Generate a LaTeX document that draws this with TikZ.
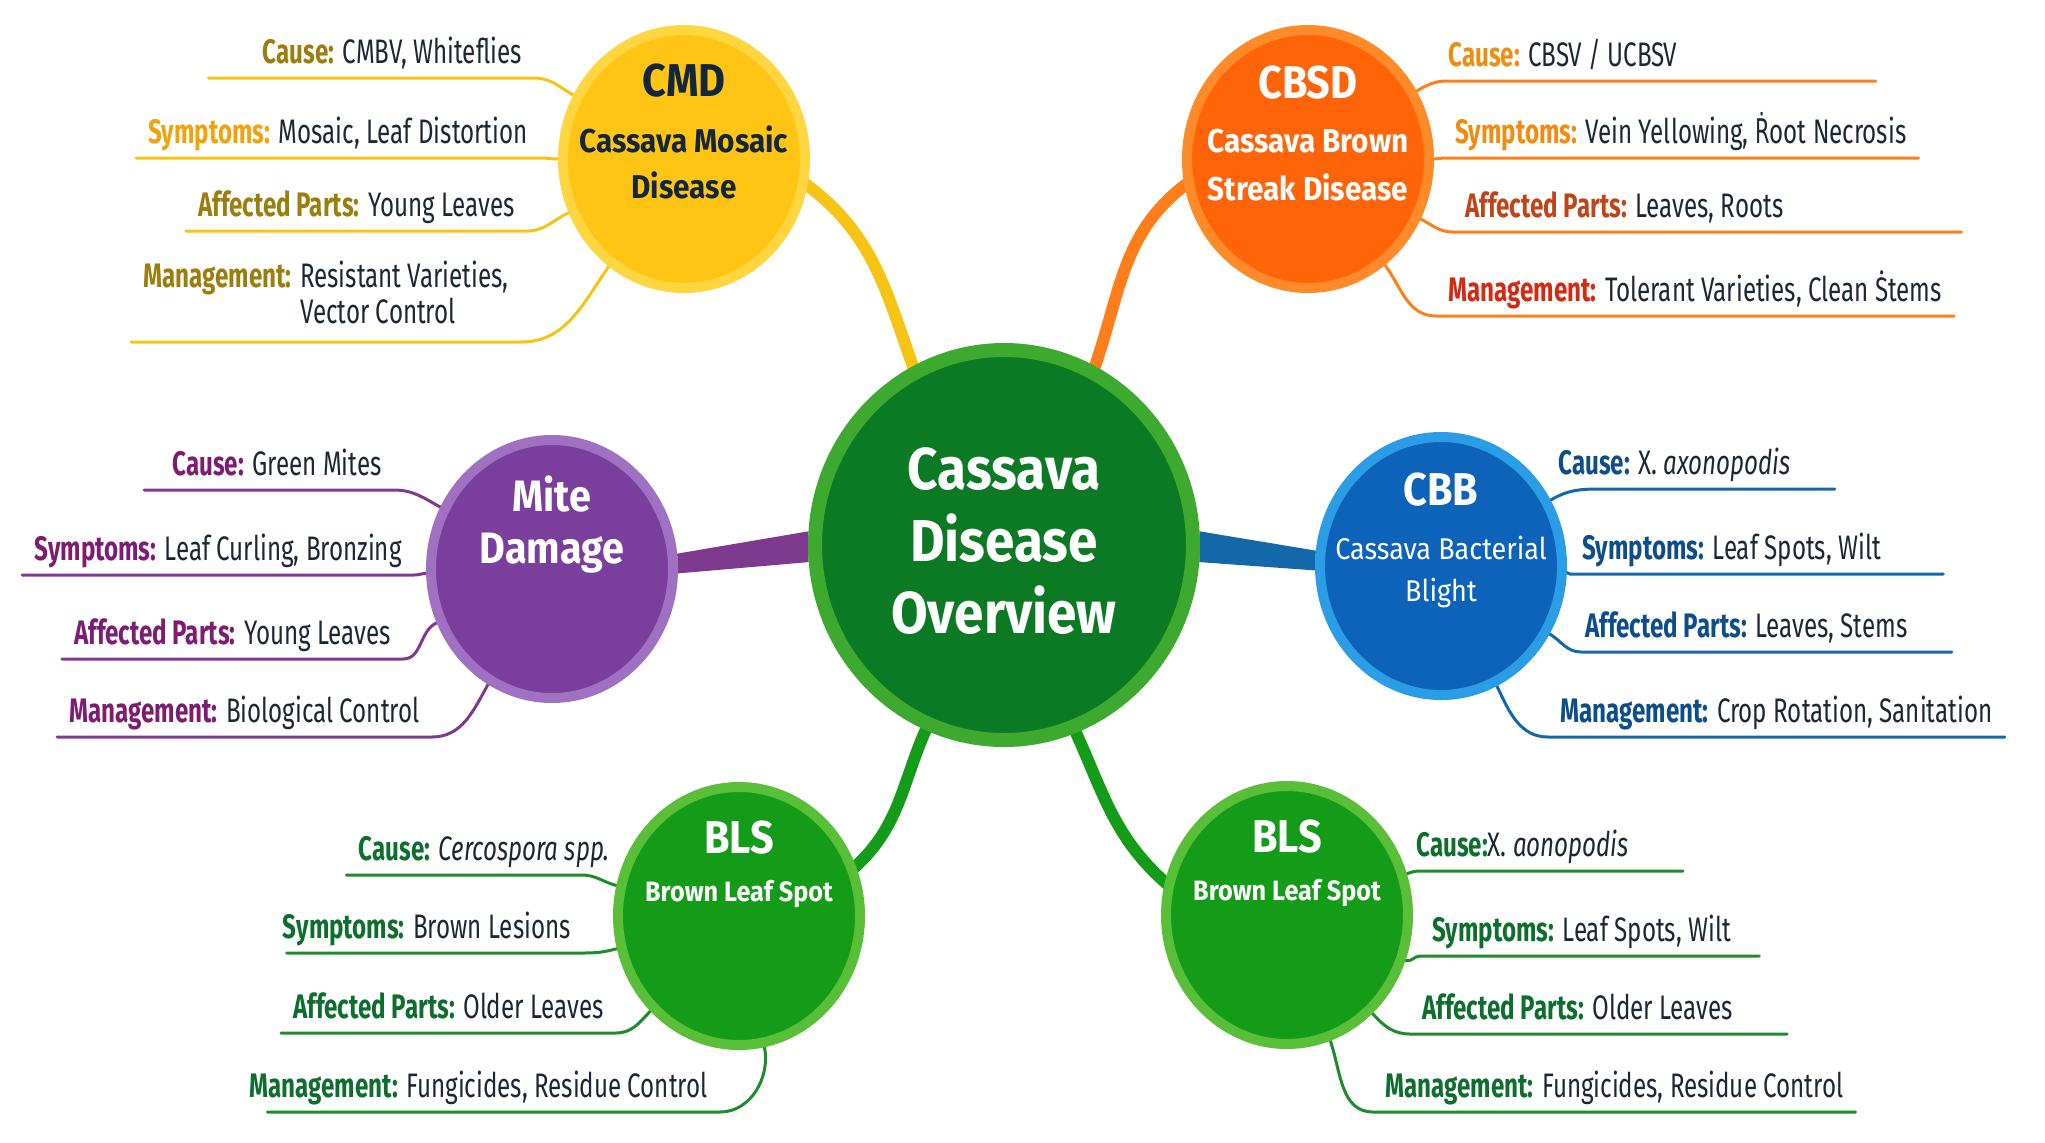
\documentclass[tikz,border=0pt]{standalone}
\usepackage{fontspec}
\setmainfont{Fira Sans}[FakeStretch=0.71]
\newfontfamily\headfont{Fira Sans}[FakeStretch=0.9]
\newfontfamily\dvfont{DejaVu Sans}[FakeStretch=0.62]
\usetikzlibrary{math,shapes.geometric,backgrounds}

\definecolor{ink}{HTML}{1D2733}
\definecolor{hubfill}{HTML}{0C7A24}
\definecolor{hubring}{HTML}{3DAA2F}
\definecolor{cmdfill}{HTML}{FFC414}
\definecolor{cmdring}{HTML}{FFD640}
\definecolor{cmdtext}{HTML}{14263A}
\definecolor{cmdline}{HTML}{F7C416}
\definecolor{cmdkeyA}{HTML}{9C7E0E}
\definecolor{cmdkeyB}{HTML}{F2A20A}
\definecolor{cbsdfill}{HTML}{FF6508}
\definecolor{cbsdring}{HTML}{FF8A2A}
\definecolor{cbsdline}{HTML}{FF7E1A}
\definecolor{cbsdkeyA}{HTML}{F08C10}
\definecolor{cbsdkeyB}{HTML}{BF4418}
\definecolor{cbsdkeyC}{HTML}{D42A12}
\definecolor{mitefill}{HTML}{7A3E9D}
\definecolor{mitering}{HTML}{A070C2}
\definecolor{mitekey}{HTML}{7C1C72}
\definecolor{miteline}{HTML}{7E3A8E}
\definecolor{cbbfill}{HTML}{0D62BA}
\definecolor{cbbring}{HTML}{2A9DE6}
\definecolor{cbbkey}{HTML}{0D4E8A}
\definecolor{cbbline}{HTML}{1468AA}
\definecolor{blsfill}{HTML}{149C18}
\definecolor{blsring}{HTML}{5ABF38}
\definecolor{blskey}{HTML}{0E6E2E}
\definecolor{blsline}{HTML}{1E8C2C}

\newcommand{\cue}[2]{{\color{#1}\bfseries #2}}

\tikzset{
  disc/.style 2 args={ellipse, fill=#1, draw=#2, line width=5pt,
    minimum width=121pt, minimum height=129pt, inner sep=0pt},
  title/.style={font=\headfont\bfseries, text=white, align=center},
  leafl/.style={anchor=south east, font=\fontsize{17}{20}\selectfont,
    text=ink, inner xsep=6pt, inner ysep=7pt, text depth=0pt},
  leafr/.style={leafl, anchor=south west},
  twig/.style={draw=#1, line width=1.5pt, line cap=round},
  branch/.style={draw=#1, line width=6pt, shorten <=-5pt, shorten >=-5pt},
}

\begin{document}
\begin{tikzpicture}[x=0.5pt, y=-0.5pt]
  \begin{scope}[on background layer]
    \fill[white] (0,0) rectangle (2045,1142);
  \end{scope}
  \useasboundingbox (0,0) rectangle (2045,1142);

  % centre and the six diseases
  \node[disc={hubfill}{hubring}, line width=7pt, minimum width=189pt, minimum height=195pt] (hub) at (1004,545) {};
  \node[disc={cmdfill}{cmdring}] (cmd) at (684,159) {};
  \node[disc={cbsdfill}{cbsdring}] (cbsd) at (1308,159) {};
  \node[disc={mitefill}{mitering}] (mite) at (552,569) {};
  \node[disc={cbbfill}{cbbring}] (cbb) at (1441,566) {};
  \node[disc={blsfill}{blsring}] (blsl) at (739,916) {};
  \node[disc={blsfill}{blsring}] (blsr) at (1287,915) {};

  % titles
  \node[title, font=\headfont\bfseries\fontsize{29.5}{36}\selectfont] (hubtxt) at ([yshift=2pt]hub.center) {Cassava\\Disease\\Overview};
  \node[title, text=cmdtext, font=\headfont\bfseries\fontsize{16.5}{23}\selectfont] (cmdtxt) at ([yshift=14pt]cmd.center) {{\fontsize{23}{26}\selectfont CMD}\\[5pt]Cassava Mosaic\\Disease};
  \node[title, font=\headfont\bfseries\fontsize{16.5}{24}\selectfont] (cbsdtxt) at ([yshift=13pt]cbsd.center) {{\fontsize{23}{26}\selectfont CBSD}\\[3pt]Cassava Brown\\Streak Disease};
  \node[title, font=\headfont\bfseries\fontsize{22}{26}\selectfont] (mitetxt) at ([yshift=22pt]mite.center) {Mite\\Damage};
  \node[title, font=\headfont\fontsize{15}{21}\selectfont] (cbbtxt) at ([yshift=13pt]cbb.center) {{\bfseries\fontsize{23}{26}\selectfont CBB}\\[6pt]Cassava Bacterial\\Blight};
  \node[title, font=\headfont\bfseries\fontsize{14}{24}\selectfont] (blsltxt) at ([yshift=26pt]blsl.center) {{\fontsize{23}{26}\selectfont BLS}\\Brown Leaf Spot};
  \node[title, font=\headfont\bfseries\fontsize{14}{24}\selectfont] (blsrtxt) at ([yshift=26pt]blsr.center) {{\fontsize{23}{26}\selectfont BLS}\\Brown Leaf Spot};

  % CMD leaves
  \node[leafl] (cmd1) at (534,78) {\cue{cmdkeyA}{Cause:} CMBV, Whiteflies};
  \node[leafl] (cmd2) at (540,158) {\cue{cmdkeyB}{Symptoms:} Mosaic, Leaf Distortion};
  \node[leafl] (cmd3) at (527,231) {\cue{cmdkeyA}{Affected Parts:} Young Leaves};
  \node[leafl, text depth=20pt] (cmd4) at (521,342) {\cue{cmdkeyA}{Management:} {\def\arraystretch{0.85}\begin{tabular}[t]{@{}l@{}}Resistant Varieties,\\Vector Control\end{tabular}}};

  % CBSD leaves
  \node[leafr] (cbsd1) at (1436,81) {\cue{cbsdkeyA}{Cause:} CBSV / UCBSV};
  \node[leafr] (cbsd2) at (1443,158) {\cue{cbsdkeyA}{Symptoms:} Vein Yellowing, {\dvfont Ṙ}oot Necrosis};
  \node[leafr] (cbsd3) at (1453,232) {\cue{cbsdkeyB}{Affected Parts:} Leaves, Roots};
  \node[leafr] (cbsd4) at (1436,316) {\cue{cbsdkeyC}{Management:} Tolerant Varieties, Clean Ṡtems};

  % mite leaves
  \node[leafl] (mite1) at (394,490) {\cue{mitekey}{Cause:} Green Mites};
  \node[leafl] (mite2) at (414,575) {\cue{mitekey}{Symptoms:} Leaf Curling, Bronzing};
  \node[leafl] (mite3) at (403,659) {\cue{mitekey}{Affected Parts:} Young Leaves};
  \node[leafl] (mite4) at (432,737) {\cue{mitekey}{Management:} Biological Control};

  % CBB leaves
  \node[leafr] (cbb1) at (1546,489) {\cue{cbbkey}{Cause:} X. \textit{axonopodis}};
  \node[leafr] (cbb2) at (1570,574) {\cue{cbbkey}{Symptoms:} Leaf Spots, Wilt};
  \node[leafr] (cbb3) at (1573,652) {\cue{cbbkey}{Affected Parts:} Leaves, Stems};
  \node[leafr] (cbb4) at (1548,737) {\cue{cbbkey}{Management:} Crop Rotation, Sanitation};

  % BLS leaves, left
  \node[leafl] (blsl1) at (622,875) {\cue{blskey}{Cause:} \textit{Cercospora spp.}};
  \node[leafl] (blsl2) at (583,953) {\cue{blskey}{Symptoms:} Brown Lesions};
  \node[leafl] (blsl3) at (616,1033) {\cue{blskey}{Affected Parts:} Older Leaves};
  \node[leafl] (blsl4) at (720,1112) {\cue{blskey}{Management:} Fungicides, Residue Control};

  % BLS leaves, right
  \node[leafr] (blsr1) at (1404,871) {\cue{blskey}{Cause:}X. \textit{aonopodis}};
  \node[leafr] (blsr2) at (1420,956) {\cue{blskey}{Symptoms:} Leaf Spots, Wilt};
  \node[leafr] (blsr3) at (1410,1034) {\cue{blskey}{Affected Parts:} Older Leaves};
  \node[leafr] (blsr4) at (1373,1112) {\cue{blskey}{Management:} Fungicides, Residue Control};

  \begin{scope}[on background layer]
    % branches from the centre
    \draw[branch=cmdline] (hub.117) to[out=110,in=-35] (cmd.-12);
    \draw[branch=cbsdline] (hub.63) to[out=70,in=215] (cbsd.192);
    \fill[miteline] (hub.176) -- (mite.7) -- (mite.-2) -- (hub.185) -- cycle;
    \fill[cbbline] (hub.4) -- (cbb.173) -- (cbb.182) -- (hub.-5) -- cycle;
    \draw[branch=blsfill] (hub.247) to[out=245,in=40] (blsl.23);
    \draw[branch=blsfill] (hub.291) to[out=295,in=140] (blsr.165);

    % underlines: leaf / angle on the disc / shift of the bend / stretch of the far end
    \foreach \i/\a/\d/\e in {1/150/0/-21, 2/180/0/0, 3/205/0/0, 4/235/0/0}
      \draw[twig=cmdline] ([xshift=\e pt]cmd\i.south west) -- ([xshift=\d pt]cmd\i.south east) to[out=0,in=\a] (cmd.\a);
    \foreach \i/\a/\d/\e in {1/32/6/93, 2/0/0/0, 3/-28/0/83, 4/-54/0/0}
      \draw[twig=cbsdline] ([xshift=\e pt]cbsd\i.south east) -- ([xshift=\d pt]cbsd\i.south west) to[out=180,in=\a] (cbsd.\a);
    \foreach \i/\a/\d/\e in {1/151/0/-8, 2/182/0/0, 3/205/0/0, 4/241/0/0}
      \draw[twig=miteline] ([xshift=\e pt]mite\i.south west) -- ([xshift=\d pt]mite\i.south east) to[out=0,in=\a] (mite.\a);
    \foreach \i/\a/\d/\e in {1/31/27/16, 2/-3/0/25, 3/-32/4/16, 4/-65/0/0}
      \draw[twig=cbbline] ([xshift=\e pt]cbb\i.south east) -- ([xshift=\d pt]cbb\i.south west) to[out=180,in=\a] (cbb.\a);
    \foreach \i/\a/\d/\e in {1/166/-20/0, 2/195/0/8, 3/227/0/0, 4/281/0/15}
      \draw[twig=blsline] ([xshift=\e pt]blsl\i.south west) -- ([xshift=\d pt]blsl\i.south east) to[out=0,in=\a] (blsl.\a);
    \foreach \i/\a/\d/\e in {1/19/8/21, 2/-21/0/8, 3/-49/0/21, 4/-71/0/0}
      \draw[twig=blsline] ([xshift=\e pt]blsr\i.south east) -- ([xshift=\d pt]blsr\i.south west) to[out=180,in=\a] (blsr.\a);
  \end{scope}

\end{tikzpicture}
\end{document}
